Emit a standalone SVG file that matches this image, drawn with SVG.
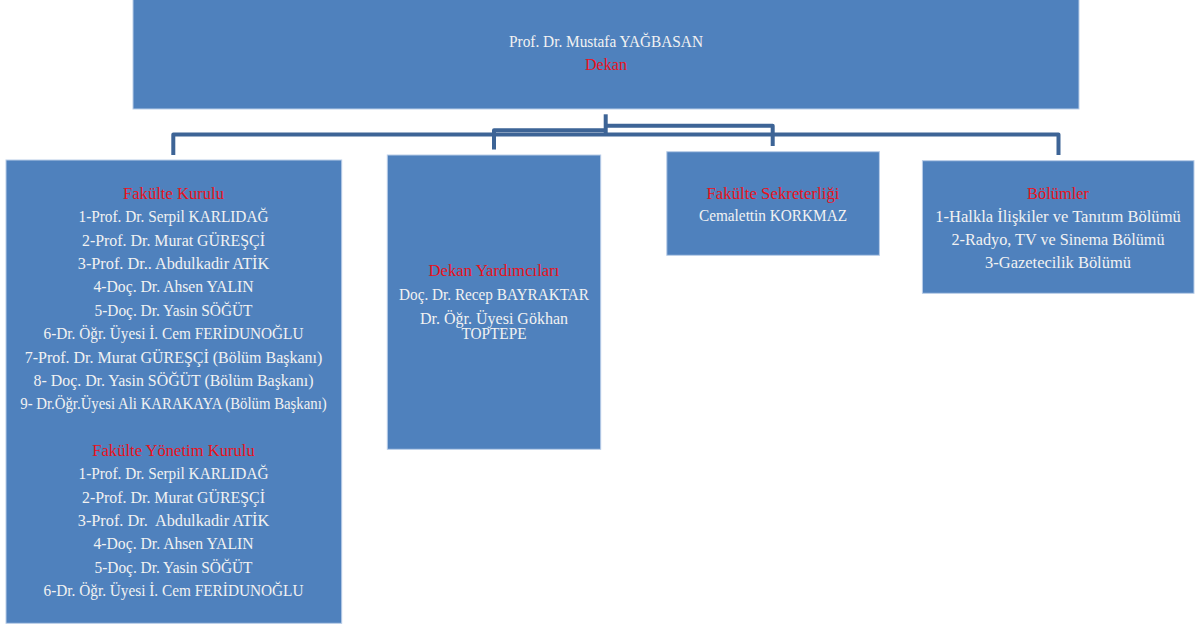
<svg xmlns="http://www.w3.org/2000/svg" width="1195" height="627" viewBox="0 0 1195 627">
<style>
.box{fill:#4f81bd;stroke:#b9cde8;stroke-width:1}
.t{font-family:"Liberation Serif","Times New Roman",serif;font-size:16px;fill:#f2f2f2;text-anchor:middle}
.h{fill:#e8121b}
.conn{fill:none;stroke:#3d6496;stroke-width:4;stroke-linejoin:round}
</style>
<rect x="0" y="0" width="1195" height="627" fill="#ffffff"/>
<g id="connectors">
<path class="conn" d="M173.3,155 V134.5 H1058.5 V155"/>
<path class="conn" d="M605.7,114.3 V136"/>
<path class="conn" d="M605.7,130.3 H494 V149.5"/>
<path class="conn" d="M605.7,125.7 H772.7 V146"/>
</g>
<g id="dekan">
<rect class="box" x="133" y="-1" width="946" height="110"/>
<text class="t" x="606" y="46.7" textLength="194" lengthAdjust="spacingAndGlyphs">Prof. Dr. Mustafa YAĞBASAN</text>
<text class="t h" x="606" y="70" textLength="42" lengthAdjust="spacingAndGlyphs">Dekan</text>
</g>
<g id="fakulte-kurulu">
<rect class="box" x="6" y="160" width="335.7" height="463.3"/>
<text class="t h" x="173.5" y="199" textLength="101" lengthAdjust="spacingAndGlyphs">Fakülte Kurulu</text>
<text class="t" x="173.5" y="222.4" textLength="190" lengthAdjust="spacingAndGlyphs">1-Prof. Dr. Serpil KARLIDAĞ</text>
<text class="t" x="173.5" y="245.7" textLength="183" lengthAdjust="spacingAndGlyphs">2-Prof. Dr. Murat GÜREŞÇİ</text>
<text class="t" x="173.5" y="269.1" textLength="191.5" lengthAdjust="spacingAndGlyphs">3-Prof. Dr.. Abdulkadir ATİK</text>
<text class="t" x="173.5" y="292.4" textLength="160" lengthAdjust="spacingAndGlyphs">4-Doç. Dr. Ahsen YALIN</text>
<text class="t" x="173.5" y="315.8" textLength="158" lengthAdjust="spacingAndGlyphs">5-Doç. Dr. Yasin SÖĞÜT</text>
<text class="t" x="173.5" y="339.1" textLength="260" lengthAdjust="spacingAndGlyphs">6-Dr. Öğr. Üyesi İ. Cem FERİDUNOĞLU</text>
<text class="t" x="173.5" y="362.5" textLength="297.5" lengthAdjust="spacingAndGlyphs">7-Prof. Dr. Murat GÜREŞÇİ (Bölüm Başkanı)</text>
<text class="t" x="173.5" y="385.8" textLength="280" lengthAdjust="spacingAndGlyphs">8- Doç. Dr. Yasin SÖĞÜT (Bölüm Başkanı)</text>
<text class="t" x="173.5" y="409.2" textLength="306.5" lengthAdjust="spacingAndGlyphs">9- Dr.Öğr.Üyesi Ali KARAKAYA (Bölüm Başkanı)</text>
<text class="t h" x="173.5" y="455.9" textLength="162.5" lengthAdjust="spacingAndGlyphs">Fakülte Yönetim Kurulu</text>
<text class="t" x="173.5" y="479.2" textLength="190" lengthAdjust="spacingAndGlyphs">1-Prof. Dr. Serpil KARLIDAĞ</text>
<text class="t" x="173.5" y="502.6" textLength="183" lengthAdjust="spacingAndGlyphs">2-Prof. Dr. Murat GÜREŞÇİ</text>
<text class="t" x="173.5" y="525.9" textLength="191.5" lengthAdjust="spacingAndGlyphs" xml:space="preserve">3-Prof. Dr.  Abdulkadir ATİK</text>
<text class="t" x="173.5" y="549.3" textLength="160" lengthAdjust="spacingAndGlyphs">4-Doç. Dr. Ahsen YALIN</text>
<text class="t" x="173.5" y="572.6" textLength="158" lengthAdjust="spacingAndGlyphs">5-Doç. Dr. Yasin SÖĞÜT</text>
<text class="t" x="173.5" y="596" textLength="260" lengthAdjust="spacingAndGlyphs">6-Dr. Öğr. Üyesi İ. Cem FERİDUNOĞLU</text>
</g>
<g id="dekan-yardimcilari">
<rect class="box" x="387.3" y="155" width="213.4" height="294.3"/>
<text class="t h" x="494" y="276" textLength="131" lengthAdjust="spacingAndGlyphs">Dekan Yardımcıları</text>
<text class="t" x="494" y="299.7" textLength="190" lengthAdjust="spacingAndGlyphs">Doç. Dr. Recep BAYRAKTAR</text>
<text class="t" x="494" y="324" textLength="148" lengthAdjust="spacingAndGlyphs">Dr. Öğr. Üyesi Gökhan</text>
<text class="t" x="494" y="339.3" textLength="65" lengthAdjust="spacingAndGlyphs">TOPTEPE</text>
</g>
<g id="fakulte-sekreterligi">
<rect class="box" x="666.8" y="151.7" width="212.6" height="103.6"/>
<text class="t h" x="773" y="198.5" textLength="133" lengthAdjust="spacingAndGlyphs">Fakülte Sekreterliği</text>
<text class="t" x="773" y="221" textLength="148" lengthAdjust="spacingAndGlyphs">Cemalettin KORKMAZ</text>
</g>
<g id="bolumler">
<rect class="box" x="922.4" y="160.7" width="271.6" height="132.6"/>
<text class="t h" x="1058" y="198.5" textLength="62" lengthAdjust="spacingAndGlyphs">Bölümler</text>
<text class="t" x="1058" y="221.8" textLength="245.5" lengthAdjust="spacingAndGlyphs">1-Halkla İlişkiler ve Tanıtım Bölümü</text>
<text class="t" x="1058" y="245.1" textLength="213" lengthAdjust="spacingAndGlyphs">2-Radyo, TV ve Sinema Bölümü</text>
<text class="t" x="1058" y="268.4" textLength="146" lengthAdjust="spacingAndGlyphs">3-Gazetecilik Bölümü</text>
</g>
</svg>
